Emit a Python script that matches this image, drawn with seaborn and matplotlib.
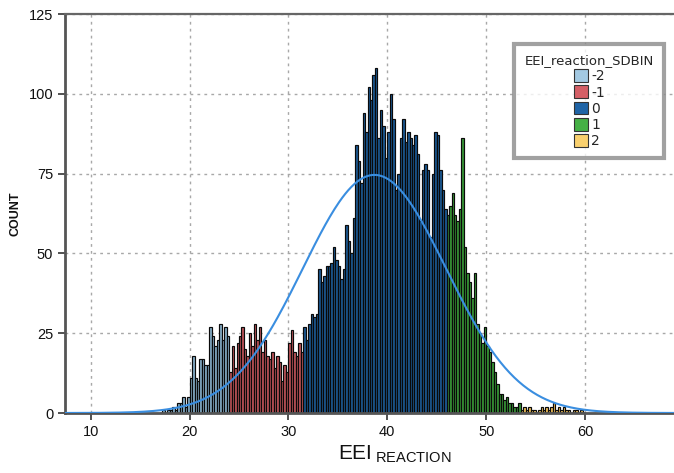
import numpy as np
import pandas as pd
import matplotlib
matplotlib.use("Agg")
import matplotlib.pyplot as plt
from matplotlib.patches import Patch
import seaborn as sns

# ---------------- data ----------------
bin_start = 17.0
bin_width = 0.25
counts = [
    0, 1, 0, 1,        # 17
    1, 2, 1, 3,        # 18
    3, 5, 2, 5,        # 19
    11, 18, 11, 10,    # 20
    17, 17, 15, 15,    # 21
    27, 24, 21, 23,    # 22
    28, 23, 27, 24,    # 23
    13, 21, 14, 22,    # 24
    24, 27, 20, 18,    # 25
    25, 21, 28, 23,    # 26
    27, 19, 23, 18,    # 27
    17, 19, 14, 18,    # 28
    16, 10, 15, 13,    # 29
    22, 26, 19, 18,    # 30
    22, 19, 27, 23,    # 31
    28, 31, 30, 31,    # 32
    45, 41, 43, 46,    # 33
    46, 47, 52, 48,    # 34
    46, 42, 45, 59,    # 35
    54, 50, 61, 84,    # 36
    79, 72, 94, 88,    # 37
    102, 98, 106, 108, # 38
    86, 95, 90, 80,    # 39
    88, 100, 92, 70,   # 40
    75, 86, 92, 85,    # 41
    88, 86, 84, 87,    # 42
    81, 60, 76, 78,    # 43
    76, 55, 75, 88,    # 44
    87, 76, 70, 64,    # 45
    62, 65, 69, 62,    # 46
    60, 64, 86, 52,    # 47
    44, 41, 36, 44,    # 48
    28, 25, 22, 27,    # 49
    21, 19, 16, 13,    # 50
    9, 6, 6, 4,        # 51
    5, 3, 3, 2,        # 52
    2, 3, 1, 2,        # 53
    1, 2, 1, 1,        # 54
    0, 1, 2, 1,        # 55
    2, 1, 2, 3,        # 56
    1, 2, 1, 2,        # 57
    1, 1, 0, 1,        # 58
    1, 0, 1, 0,        # 59
]
sd_cuts = [24.0, 31.5, 46.0, 53.5]
groups = ["-2", "-1", "0", "1", "2"]
bar_colors = ["#84abc4", "#bb5257", "#1b5791", "#379435", "#efbe58"]
legend_colors = ["#a3c9e2", "#d45f66", "#1f64a6", "#45b045", "#f9d06e"]
curve_mean = 38.7
curve_sd = 7.25
curve_peak = 74.6
x_ticks = [10, 20, 30, 40, 50, 60]
y_ticks = [0, 25, 50, 75, 100, 125]

# ---------------- frame ----------------
lefts = bin_start + bin_width * np.arange(len(counts))
grp = [groups[int(np.searchsorted(sd_cuts, l, side="right"))] for l in lefts]
df = pd.DataFrame({"x": lefts + bin_width / 2, "count": counts, "group": grp})

sns.set_theme(style="white")
plt.rcParams["font.family"] = ["Liberation Sans", "DejaVu Sans"]
plt.rcParams["mathtext.fontset"] = "custom"
plt.rcParams["mathtext.rm"] = "Liberation Sans"

fig = plt.figure(figsize=(6.74, 4.73), dpi=100)
ax = fig.add_axes([65 / 674, 1 - 413 / 473, 1 - 65 / 674, (413 - 14) / 473])

sns.histplot(
    data=df, x="x", weights="count", hue="group", hue_order=groups,
    palette=dict(zip(groups, bar_colors)), binwidth=bin_width,
    binrange=(bin_start, bin_start + bin_width * len(counts)),
    multiple="layer", alpha=1.0, edgecolor="#0a0a0a", linewidth=0.85,
    legend=False, ax=ax, zorder=2,
)

cx = np.linspace(7.0, 69.0, 400)
cy = curve_peak * np.exp(-0.5 * ((cx - curve_mean) / curve_sd) ** 2)
sns.lineplot(x=cx, y=cy, color="#3a8ee0", linewidth=1.5, ax=ax, zorder=3)

ax.set_xlim(7.4, 69.0)
ax.set_ylim(0, 125)
ax.set_xticks(x_ticks)
ax.set_yticks(y_ticks)
ax.grid(True, color="#a8a8a8", linestyle=(0, (2, 3)), linewidth=1.0, zorder=0)
ax.set_axisbelow(True)

for s in ["left", "bottom"]:
    ax.spines[s].set_color("#555555")
    ax.spines[s].set_linewidth(2.0)
ax.spines["top"].set_color("#666666")
ax.spines["top"].set_linewidth(1.6)
ax.spines["right"].set_visible(False)

ax.tick_params(axis="both", direction="out", length=5, width=1.2, color="#333333",
               labelsize=10.5, labelcolor="#111111", bottom=True, left=True)

ax.set_xlabel(r"EEI$\,_{\mathregular{REACTION}}$", fontsize=15, color="#111111")
ax.xaxis.set_label_coords(0.542, -0.075)
ax.set_ylabel("COUNT", fontsize=9, fontweight="bold", color="#111111", labelpad=5)

handles = [Patch(facecolor=c, edgecolor="#333333", linewidth=0.8) for c in legend_colors]
leg = ax.legend(handles, groups, title="EEI_reaction_SDBIN", loc="upper right",
                bbox_to_anchor=(0.984, 0.925), borderaxespad=0.0,
                frameon=True, fancybox=False,
                handlelength=1.0, handleheight=1.05,
                handletextpad=0.25, labelspacing=0.14, borderpad=0.75,
                prop={"family": "DejaVu Sans", "size": 10})
leg.get_title().set_family("DejaVu Sans")
leg.get_title().set_fontsize(9.5)
leg.get_frame().set_edgecolor("#8a8a8a")
leg.get_frame().set_linewidth(3)
leg.set_zorder(5)

fig.savefig("out.png", dpi=100)
